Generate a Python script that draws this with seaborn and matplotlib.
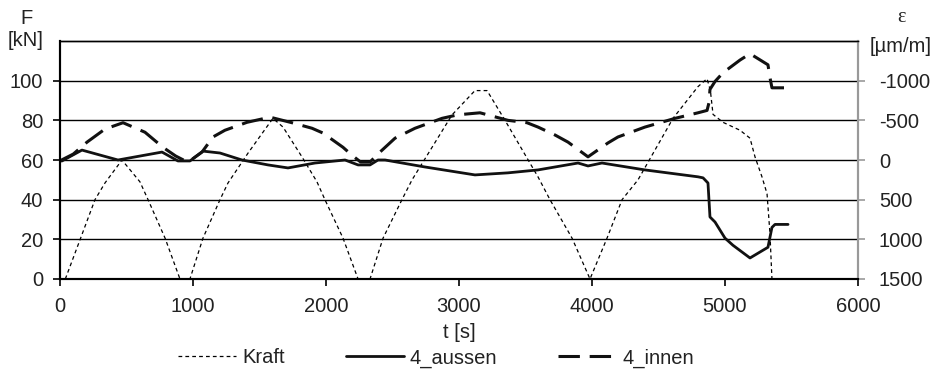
import matplotlib
matplotlib.use('Agg')
import matplotlib.pyplot as plt
import seaborn as sns

# Kraft (force, kN)
t_kraft = [40, 150, 263, 338, 466, 601, 662, 790, 902, 977, 1075, 1203, 1263, 1414, 1526, 1601,
           1677, 1820, 1932, 1992, 2128, 2241, 2331, 2429, 2571, 2647, 2947, 3120, 3211, 3346,
           3594, 3684, 3850, 3985, 4113, 4226, 4346, 4609, 4797, 4865, 4890, 4910, 4985, 5113,
           5188, 5226, 5278, 5316, 5338, 5353, 5420]
kraft = [0, 19.7, 40, 48.4, 60, 49, 40, 20.6, 0, 0, 20.6, 40, 48.4, 63.5, 74, 81,
         76.6, 61.5, 49, 40, 20.6, 0, 0, 20.6, 40, 50, 82.7, 95, 95, 80,
         51.5, 40, 20.6, 0, 20.6, 40, 50, 81, 97, 101, 95, 83, 79, 75,
         71, 61.5, 51.5, 43, 23, 0, 0]

# 4_aussen strain (µm/m)
t_aussen = [0, 15, 165, 436, 767, 887, 977, 1075, 1203, 1368, 1564, 1714, 1917, 2143, 2241,
            2331, 2391, 2444, 2744, 3120, 3368, 3594, 3895, 3970, 4075, 4398, 4797, 4835,
            4872, 4887, 4925, 5000, 5060, 5188, 5323, 5353, 5376, 5474]
aussen = [12, 12, -125, 0, -100, 12, 12, -112, -88, 0, 62, 100, 38, 0, 62,
          62, 0, 0, 88, 188, 162, 125, 38, 75, 38, 125, 212, 225,
          290, 718, 782, 985, 1075, 1235, 1100, 850, 812, 812]

# 4_innen strain (µm/m)
t_innen = [0, 100, 203, 338, 474, 639, 774, 870, 940, 977, 1068, 1150, 1240, 1406, 1579, 1744,
           1895, 1977, 2128, 2195, 2260, 2331, 2406, 2519, 2669, 2872, 2992, 3158, 3368, 3511,
           3594, 3722, 3820, 3970, 4120, 4195, 4398, 4624, 4797, 4865, 4880, 4887, 4925, 4985,
           5113, 5188, 5323, 5338, 5353, 5451]
innen = [10, -75, -225, -390, -470, -350, -160, -50, 10, 10, -100, -290, -375, -475, -540, -470,
         -400, -340, -160, -60, 25, 25, -100, -275, -400, -525, -570, -595, -500, -470,
         -415, -315, -225, -40, -215, -290, -415, -525, -595, -625, -725, -890, -990, -1100,
         -1260, -1340, -1200, -1040, -910, -910]

sns.set_style('ticks')
plt.rcParams['font.family'] = ['Liberation Sans', 'DejaVu Sans']
plt.rcParams['axes.unicode_minus'] = False
fs = 14.5
txt = '#222222'

fig = plt.figure(figsize=(9.4, 3.75), dpi=100)
ax = fig.add_axes([60/940, 1 - 279/375, 798/940, 238/375])
ax2 = ax.twinx()

sns.lineplot(x=t_kraft, y=kraft, ax=ax, color='black', lw=0.9, estimator=None,
             label='Kraft', legend=False)
ax.lines[-1].set_dashes((3, 2.5))

sns.lineplot(x=t_aussen, y=aussen, ax=ax2, color='#111111', lw=2.0, estimator=None,
             label='4_aussen', legend=False)
sns.lineplot(x=t_innen, y=innen, ax=ax2, color='#111111', lw=2.2, estimator=None,
             label='4_innen', legend=False)
ax2.lines[-1].set_dashes((7, 3.2))

ax.set_xlim(0, 6000)
ax.set_ylim(0, 120)
ax.set_xticks(range(0, 6001, 1000))
ax.set_yticks(range(0, 101, 20))
ax.yaxis.grid(True, color='black', lw=1)
ax.set_axisbelow(True)
ax.tick_params(axis='both', labelsize=fs, labelcolor=txt, direction='out', length=5,
               width=1.2, color='black')
ax.tick_params(axis='x', pad=8)
ax.tick_params(axis='y', pad=7)
ax.set_xlabel('t [s]', fontsize=fs, color=txt, labelpad=5)
ax.set_ylabel('')

ax2.set_ylim(1500, -1500)
ax2.set_yticks([1500, 1000, 500, 0, -500, -1000])
ax2.tick_params(axis='y', labelsize=fs, labelcolor=txt, direction='out', length=5,
                width=1.2, color='#999999', pad=10)
ax2.set_ylabel('')

for a in (ax, ax2):
    a.spines['top'].set_color('black')
    a.spines['top'].set_linewidth(1)
    a.spines['left'].set_color('black')
    a.spines['left'].set_linewidth(1.5)
    a.spines['bottom'].set_color('black')
    a.spines['bottom'].set_linewidth(1.5)
    a.spines['right'].set_color('#999999')
    a.spines['right'].set_linewidth(1.5)

fig.text(26/940, 1 - 19/375, 'F', ha='center', va='center', fontsize=fs, color=txt)
fig.text(26/940, 1 - 41/375, '[kN]', ha='center', va='center', fontsize=fs, color=txt)
fig.text(901/940, 1 - 18/375, 'ε', ha='center', va='center', fontsize=fs, color=txt,
         family=['Liberation Serif', 'DejaVu Serif'])
fig.text(901/940, 1 - 47/375, '[µm/m]', ha='center', va='center', fontsize=fs, color=txt)

handles = ax.lines[:1] + ax2.lines[:2]
fig.legend(handles, ['Kraft', '4_aussen', '4_innen'], loc='center', ncol=3,
           bbox_to_anchor=(436/940, 1 - 358/375), frameon=False, fontsize=fs,
           handlelength=2.9, handletextpad=0.3, columnspacing=3.0, labelcolor=txt)

fig.savefig('out.png', dpi=100)
